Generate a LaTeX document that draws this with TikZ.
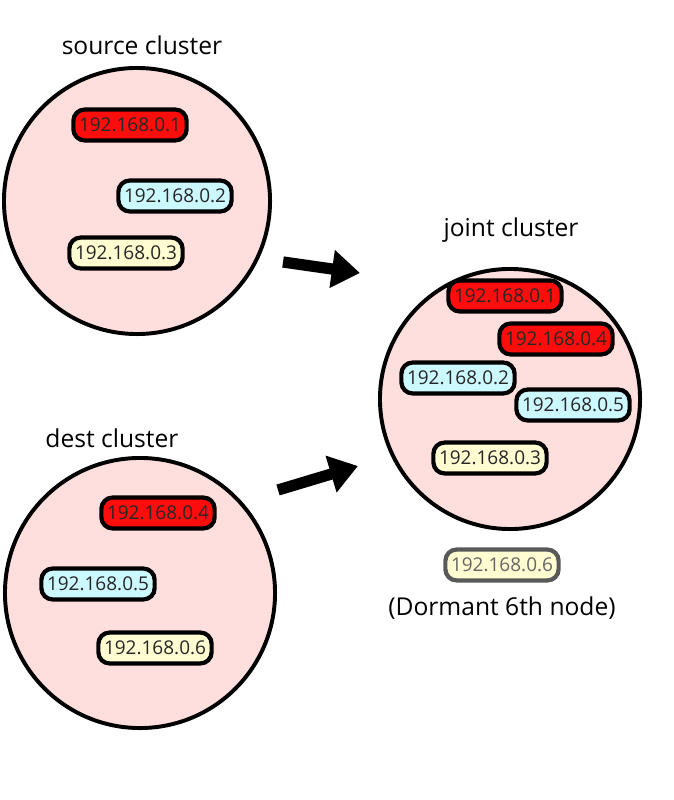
\documentclass[tikz,border=0pt]{standalone}
\usepackage{fontspec}
\setmainfont{Open Sans}
\usepackage{tikz}
\usetikzlibrary{arrows.meta}
\definecolor{clusterpink}{RGB}{255,222,222}
\definecolor{ipred}{RGB}{255,12,12}
\definecolor{ipcyan}{RGB}{204,248,255}
\definecolor{ipyellow}{RGB}{255,252,210}
\tikzstyle{cluster}=[draw=black,fill=clusterpink,line width=2.8pt,circle,inner sep=0pt]
\tikzstyle{clustertitle}=[font=\fontsize{17.5}{20}\selectfont]
\tikzstyle{ip}=[draw=black,line width=3pt,rounded corners=8pt,inner xsep=4pt,inner ysep=6pt,text=black!85,
  font=\fontsize{13.5}{16}\selectfont]
\tikzstyle{bigarrow}=[line width=8pt,-{Triangle[length=20pt,width=26pt]}]

\begin{document}
\begin{tikzpicture}[x=0.025cm,y=-0.025cm]
  \useasboundingbox (0,0) rectangle (674,800);
  % the three clusters
  \node[cluster,minimum size=6.65cm] (src) at (137,201) {};
  \node[cluster,minimum size=6.75cm] (dst) at (140,593) {};
  \node[cluster,minimum size=6.5cm] (jnt) at (510,399) {};
  \node[clustertitle] (srctitle) at (142,45) {source cluster};
  \node[clustertitle] (dsttitle) at (112,438) {dest cluster};
  \node[clustertitle] (jnttitle) at (511,230) {joint cluster};

  % members
  \foreach \n/\c/\x/\y in {1/ipred/130/125,2/ipcyan/175/196,3/ipyellow/126/253}{
    \node[ip,fill=\c] (src\n) at (\x,\y) {192.168.0.\n};
  }
  \foreach \n/\c/\x/\y in {4/ipred/158/513,5/ipcyan/98/584,6/ipyellow/155/648}{
    \node[ip,fill=\c] (dst\n) at (\x,\y) {192.168.0.\n};
  }
  \foreach \n/\c/\x/\y in {1/ipred/505/296,4/ipred/556/339,2/ipcyan/458/378,5/ipcyan/573/405,3/ipyellow/490/458}{
    \node[ip,fill=\c] (jnt\n) at (\x,\y) {192.168.0.\n};
  }
  \node[ip,fill=ipyellow,draw=black!65,text=black!60] (jnt6) at (502,565) {192.168.0.6};
  \node[clustertitle] (dormant) at (502,608) {(Dormant 6th node)};

  % merge arrows
  \coordinate (srcout) at (283,262);
  \coordinate (jntin1) at (360,273);
  \coordinate (dstout) at (278,490);
  \coordinate (jntin2) at (358,466);
  \draw[bigarrow] (srcout) -- (jntin1);
  \draw[bigarrow] (dstout) -- (jntin2);
\end{tikzpicture}
\end{document}
